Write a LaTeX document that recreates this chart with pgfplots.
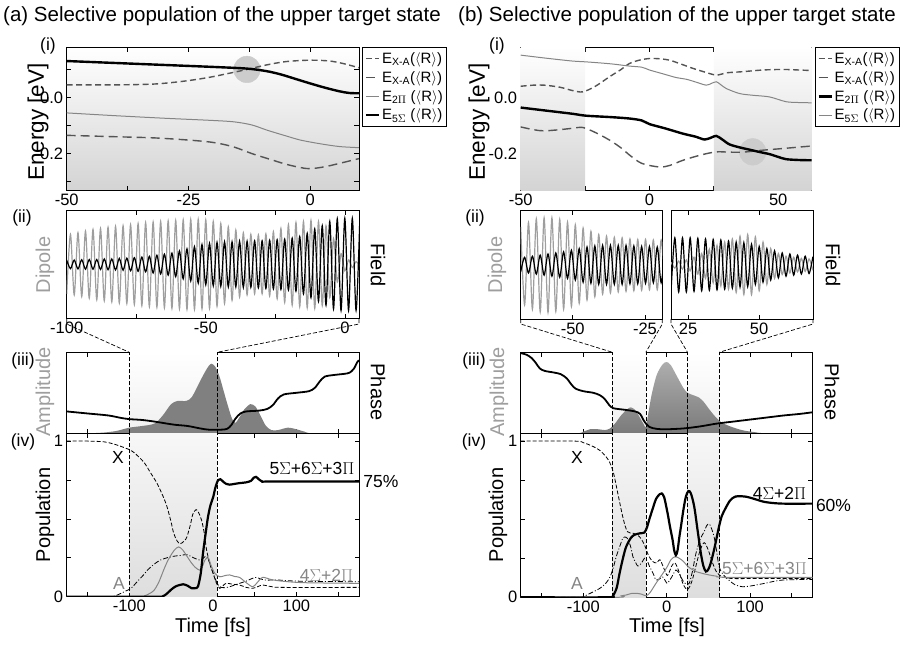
\documentclass[border=0pt]{standalone}
\usepackage{fontspec}
\setmainfont{Liberation Sans}
\usepackage{pgfplots}
\usepackage{pgfplotstable}
\pgfplotsset{compat=1.18}
\newcommand\fTitle{\fontsize{20.5}{22}\selectfont}
\newcommand\fLab{\fontsize{20}{22}\selectfont}
\newcommand\fEn{\fontsize{22.5}{24}\selectfont}
\newcommand\fTick{\fontsize{16.5}{18}\selectfont}
\newcommand\fLeg{\fontsize{15}{16}\selectfont}
\newcommand\fAnn{\fontsize{17.5}{19}\selectfont}
\definecolor{dgray}{gray}{0.33}
\definecolor{mgray}{gray}{0.52}
\definecolor{lgray}{gray}{0.62}
\definecolor{cgray}{gray}{0.8}
\pgfplotsset{
  base/.style={scale only axis, axis line style={line width=0.9pt},
    every tick/.style={black, line width=0.8pt}, major tick length=4.5pt,
    tick align=inside, ticklabel style={font=\fTick}, clip=true, clip mode=individual},
  dashU/.style={color=dgray, line width=1.4pt, dash pattern=on 6pt off 3.5pt, smooth},
  dashL/.style={color=dgray, line width=1.4pt, dash pattern=on 9pt off 5pt, smooth},
  thinG/.style={color=mgray, line width=1pt, smooth},
  thickK/.style={color=black, line width=2.4pt, smooth},
  vdash/.style={black, line width=0.7pt, dash pattern=on 4pt off 2pt, forget plot},
  leg/.style={legend style={at={(1.011,1)}, anchor=north west, draw=black, line width=0.8pt, font=\fLeg, inner xsep=2pt, inner ysep=3pt, row sep=2.5pt, cells={anchor=west}},
    legend image code/.code={\draw[##1] (0pt,0pt) -- (13pt,0pt);}},
}
\pgfplotstableread{
x g b
-100.0 -0.55 0.08
-98.65 0.56 -0.08
-97.3 -0.57 0.08
-95.95 0.59 -0.085
-94.6 -0.60 0.085
-93.25 0.62 -0.09
-91.9 -0.63 0.09
-90.55 0.65 -0.09
-89.2 -0.66 0.09
-87.85 0.67 -0.095
-86.5 -0.68 0.10
-85.15 0.69 -0.10
-83.8 -0.70 0.10
-82.45 0.71 -0.105
-81.1 -0.72 0.11
-79.75 0.72 -0.11
-78.4 -0.73 0.115
-77.05 0.74 -0.12
-75.7 -0.75 0.125
-74.35 0.76 -0.13
-73.0 -0.77 0.135
-71.65 0.78 -0.14
-70.3 -0.79 0.15
-68.95 0.79 -0.16
-67.6 -0.80 0.17
-66.25 0.80 -0.18
-64.9 -0.81 0.19
-63.55 0.81 -0.20
-62.2 -0.82 0.21
-60.85 0.82 -0.23
-59.5 -0.83 0.25
-58.15 0.83 -0.27
-56.8 -0.84 0.29
-55.45 0.84 -0.31
-54.1 -0.84 0.33
-52.75 0.84 -0.35
-51.4 -0.83 0.37
-50.05 0.83 -0.38
-48.7 -0.82 0.39
-47.35 0.80 -0.40
-46.0 -0.78 0.41
-44.65 0.76 -0.41
-43.3 -0.73 0.42
-41.95 0.70 -0.42
-40.6 -0.67 0.42
-39.25 0.64 -0.42
-37.9 -0.61 0.43
-36.55 0.59 -0.43
-35.2 -0.57 0.43
-33.85 0.56 -0.43
-32.5 -0.55 0.44
-31.15 0.55 -0.44
-29.8 -0.55 0.44
-28.45 0.57 -0.45
-27.1 -0.59 0.45
-25.75 0.61 -0.46
-24.4 -0.64 0.46
-23.05 0.67 -0.47
-21.7 -0.71 0.47
-20.35 0.74 -0.48
-19.0 -0.76 0.49
-17.65 0.78 -0.50
-16.3 -0.79 0.52
-14.95 0.80 -0.55
-13.6 -0.81 0.58
-12.25 0.82 -0.62
-10.9 -0.82 0.66
-9.55 0.80 -0.69
-8.2 -0.77 0.72
-6.85 0.72 -0.76
-5.5 -0.62 0.80
-4.15 0.48 -0.83
-2.8 -0.33 0.85
-1.45 0.20 -0.86
-0.1 -0.12 0.86
1.25 0.08 -0.86
2.6 -0.06 0.86
3.95 0.05 -0.86
5.3 -0.04 0.86
}\dipA
\pgfplotstableread{
x g b
-68.0 0.70 -0.13
-66.65 -0.74 0.14
-65.3 0.78 -0.15
-63.95 -0.82 0.16
-62.6 0.85 -0.17
-61.25 -0.87 0.18
-59.9 0.87 -0.19
-58.55 -0.88 0.20
-57.2 0.87 -0.21
-55.85 -0.86 0.22
-54.5 0.84 -0.23
-53.15 -0.82 0.24
-51.8 0.79 -0.25
-50.45 -0.77 0.27
-49.1 0.74 -0.28
-47.75 -0.71 0.30
-46.4 0.68 -0.32
-45.05 -0.65 0.33
-43.7 0.62 -0.34
-42.35 -0.59 0.35
-41.0 0.56 -0.36
-39.65 -0.54 0.36
-38.3 0.53 -0.36
-36.95 -0.52 0.36
-35.6 0.51 -0.36
-34.25 -0.50 0.36
-32.9 0.50 -0.36
-31.55 -0.49 0.36
-30.2 0.48 -0.35
-28.85 -0.48 0.35
-27.5 0.47 -0.35
-26.15 -0.47 0.34
-24.8 0.47 -0.34
-23.45 -0.46 0.34
-22.1 0.46 -0.33
-20.75 -0.46 0.33
-19.4 0.46 -0.33
-18.05 -0.46 0.33
}\dipB
\pgfplotstableread{
x g b
19.0 0.05 -0.50
20.35 -0.06 0.50
21.7 0.07 -0.50
23.05 -0.08 0.50
24.4 0.09 -0.50
25.75 -0.11 0.50
27.1 0.14 -0.49
28.45 -0.17 0.49
29.8 0.21 -0.48
31.15 -0.25 0.48
32.5 0.29 -0.47
33.85 -0.33 0.47
35.2 0.36 -0.46
36.55 -0.39 0.46
37.9 0.42 -0.45
39.25 -0.45 0.44
40.6 0.48 -0.43
41.95 -0.51 0.42
43.3 0.53 -0.41
44.65 -0.55 0.41
46.0 0.56 -0.40
47.35 -0.55 0.38
48.7 0.52 -0.36
50.05 -0.48 0.34
51.4 0.42 -0.32
52.75 -0.36 0.30
54.1 0.30 -0.28
55.45 -0.25 0.26
56.8 0.21 -0.24
58.15 -0.18 0.22
59.5 0.16 -0.21
60.85 -0.15 0.20
62.2 0.14 -0.19
63.55 -0.13 0.18
64.9 0.12 -0.17
66.25 -0.12 0.16
67.6 0.11 -0.16
68.95 -0.10 0.15
}\dipC
\begin{document}
\begin{tikzpicture}
\useasboundingbox (0,0) rectangle (901pt,-646pt);
% titles
\node[anchor=base west, font=\fTitle, inner sep=0] at (3pt,-21pt) {(a) Selective population of the upper target state};
\node[anchor=base west, font=\fTitle, inner sep=0] at (458pt,-21pt) {(b) Selective population of the upper target state};
\node[font=\fEn, rotate=90, inner sep=0] at (38pt,-122pt) {Energy [eV]};
\node[font=\fEn, rotate=90, inner sep=0] at (479pt,-122pt) {Energy [eV]};
%%%%%%%%%%%%%%%% LEFT (i)
\begin{axis}[base, leg, at={(66.7pt,-190pt)}, anchor=south west, width=292.3pt, height=143pt,
  xmin=-50, xmax=10, ymin=-0.33, ymax=0.18,
  xtick={-50,-37.5,-25,-12.5,0}, xticklabels={-50,,-25,,0},
  ytick={-0.3,-0.2,-0.1,0,0.1}, yticklabels={,-0.2,,0.0,},
  axis background/.style={top color=white, bottom color=black!17}]
\addplot[color=cgray, only marks, mark=*, mark size=13.3pt, mark options={draw=cgray, fill=cgray}, forget plot] coordinates {(-13,0.1)};
\addplot[dashU] coordinates {(-50,0.045) (-40,0.045) (-32,0.048) (-26,0.058) (-21,0.071) (-17,0.085) (-13,0.100) (-9,0.116) (-5,0.128) (0,0.133) (4,0.13) (7,0.12) (10,0.106)};
\addlegendentry{E\textsubscript{X-A}($\langle$R$\rangle$)}
\addplot[dashL] coordinates {(-50,-0.135) (-40,-0.14) (-31,-0.145) (-21,-0.158) (-16,-0.175) (-12,-0.2) (-8,-0.222) (-5,-0.238) (-2,-0.25) (0,-0.254) (3,-0.247) (6,-0.235) (10,-0.218)};
\addlegendentry{E\textsubscript{X-A}($\langle$R$\rangle$)}
\addplot[thinG] coordinates {(-50,-0.055) (-40,-0.065) (-30,-0.074) (-20,-0.082) (-15.6,-0.087) (-12,-0.098) (-8.8,-0.117) (-5,-0.137) (-2,-0.152) (2,-0.165) (6,-0.175) (10,-0.179)};
\addlegendentry{E\textsubscript{2$\Pi$} ($\langle$R$\rangle$)}
\addplot[thickK] coordinates {(-50,0.13) (-40,0.123) (-30,0.116) (-20,0.109) (-13,0.103) (-9,0.094) (-6,0.082) (-3,0.066) (0,0.05) (3,0.035) (6,0.022) (8,0.016) (10,0.015)};
\addlegendentry{E\textsubscript{5$\Sigma$} ($\langle$R$\rangle$)}
\end{axis}
%%%%%%%%%%%%%%%% LEFT (ii)
\begin{axis}[base, at={(66.7pt,-318pt)}, anchor=south west, width=292.3pt, height=107.3pt,
  xmin=-100, xmax=5, ymin=-1, ymax=1, ytick=\empty,
  xtick={-100,-75,-50,-25,0}, xticklabels={-100,,-50,,0}]
\addplot[color=lgray, line width=1.2pt, smooth] table[x=x, y=g] {\dipA};
\addplot[color=black, line width=1.2pt, smooth] table[x=x, y=b] {\dipA};
\end{axis}
%%%%%%%%%%%%%%%% LEFT (iii)
\begin{axis}[base, at={(66.7pt,-433.3pt)}, anchor=south west, width=292.3pt, height=81pt,
  xmin=-175, xmax=175, ymin=0, ymax=1, ytick=\empty,
  xtick={-150,-100,...,150}, xticklabels={}]
\addplot[draw=none, top color=white, bottom color=black!6, forget plot] coordinates {(-100,0) (-100,1) (5,1) (5,0)} -- cycle;
\addplot[draw=none, fill=black!50, smooth] coordinates {(-175,0) (-150,0) (-130,0.01) (-115,0.03) (-100,0.07) (-85,0.09) (-70,0.12) (-60,0.22) (-50,0.36) (-42,0.40) (-32,0.40) (-25,0.45) (-15,0.65) (-7,0.80) (-2,0.86) (3,0.82) (8,0.70) (13,0.52) (18,0.34) (23,0.18) (27,0.13) (32,0.2) (38,0.3) (45,0.36) (51,0.33) (57,0.22) (63,0.1) (70,0.04) (78,0.04) (90,0.07) (100,0.05) (110,0.02) (120,0) (175,0)} \closedcycle;
\addplot[vdash] coordinates {(-100,0) (-100,1)};
\addplot[vdash] coordinates {(5,0) (5,1)};
\addplot[color=black, line width=1.8pt, smooth] coordinates {(-175,0.27) (-150,0.245) (-125,0.22) (-110,0.19) (-100,0.175) (-85,0.165) (-70,0.145) (-55,0.12) (-45,0.105) (-30,0.09) (-15,0.06) (-5,0.045) (10,0.045) (17,0.055) (22,0.1) (27,0.18) (33,0.245) (40,0.27) (55,0.28) (65,0.3) (72,0.35) (78,0.43) (85,0.48) (100,0.5) (115,0.52) (122,0.56) (128,0.64) (134,0.7) (145,0.72) (158,0.735) (164,0.75) (169,0.8) (173,0.88) (175,0.9)};
\end{axis}
%%%%%%%%%%%%%%%% LEFT (iv)
\begin{axis}[base, at={(66.7pt,-596.7pt)}, anchor=south west, width=292.3pt, height=163.4pt,
  xmin=-175, xmax=175, ymin=0, ymax=1.05,
  xtick={-150,-100,...,150}, xticklabels={,-100,,0,,100,},
  ytick={0,0.25,0.5,0.75,1}, yticklabels={0,,,,1}]
\addplot[draw=none, top color=black!3, bottom color=black!13, forget plot] coordinates {(-100,0) (-100,1.05) (5,1.05) (5,0)} -- cycle;
\addplot[vdash] coordinates {(-100,0) (-100,1.05)};
\addplot[vdash] coordinates {(5,0) (5,1.05)};
\addplot[color=black, line width=0.8pt, dash pattern=on 4pt off 2pt, smooth] coordinates {(-175,1) (-150,1) (-130,0.995) (-115,0.975) (-98,0.94) (-90,0.905) (-82,0.86) (-75,0.80) (-67,0.73) (-60,0.65) (-55,0.58) (-50,0.48) (-47,0.41) (-43,0.36) (-39,0.34) (-34,0.36) (-31,0.385) (-27,0.46) (-24,0.53) (-20,0.56) (-17,0.54) (-13.4,0.49) (-10,0.4) (-7.5,0.3) (-3,0.2) (0.4,0.15) (4,0.09) (8.3,0.054) (12,0.07) (16,0.086) (24,0.08) (32,0.075) (40,0.06) (47.7,0.054) (54,0.065) (59.6,0.075) (70,0.065) (83,0.06) (175,0.06)};
\addplot[color=black, line width=0.8pt, dash pattern=on 5pt off 2pt on 1pt off 2pt, smooth] coordinates {(-175,0) (-125,0) (-115,0.01) (-105,0.035) (-98,0.054) (-90,0.1) (-83,0.14) (-78.5,0.17) (-70,0.21) (-63,0.235) (-55,0.25) (-47,0.26) (-39,0.265) (-31,0.27) (-23,0.25) (-15.4,0.235) (-11,0.25) (-7.5,0.26) (-4,0.22) (0.4,0.15) (4,0.1) (8.3,0.064) (14,0.058) (20,0.064) (26,0.075) (32,0.086) (40,0.1) (46,0.115) (51.7,0.124) (57,0.115) (63.5,0.107) (79,0.107) (103,0.1) (175,0.096)};
\addplot[color=mgray, line width=1pt, smooth] coordinates {(-175,0) (-90,0) (-82,0.005) (-76,0.02) (-70.6,0.04) (-65,0.09) (-59,0.17) (-55,0.22) (-51,0.26) (-46,0.3) (-41,0.32) (-36,0.3) (-31,0.26) (-26,0.22) (-21.3,0.19) (-15.4,0.17) (-12,0.2) (-9.5,0.235) (-5.6,0.25) (-2,0.2) (2.4,0.15) (8.3,0.128) (14,0.135) (20,0.14) (26,0.13) (32,0.124) (40,0.09) (47.7,0.064) (53,0.09) (59.6,0.124) (70,0.11) (83,0.1) (110,0.09) (175,0.086)};
\addplot[color=black, line width=2.2pt, smooth] coordinates {(-175,0) (-70,0) (-60,0.003) (-55,0.02) (-50,0.045) (-45,0.065) (-40,0.075) (-35.5,0.08) (-30,0.07) (-25.6,0.055) (-21,0.055) (-17.8,0.066) (-14.5,0.15) (-11.8,0.28) (-8.8,0.4) (-5.9,0.51) (-3,0.585) (0.4,0.64) (3,0.70) (6.3,0.75) (9,0.755) (12.2,0.74) (16,0.725) (20,0.72) (26,0.725) (32,0.73) (40,0.735) (45.8,0.745) (49,0.765) (51.7,0.77) (55,0.755) (59.6,0.74) (70,0.74) (175,0.74)};
\end{axis}
%%%%%%%%%%%%%%%% RIGHT (i)
\begin{axis}[base, leg, at={(520.7pt,-190pt)}, anchor=south west, width=291pt, height=143pt,
  xmin=-50, xmax=63, ymin=-0.33, ymax=0.18,
  xtick={-50,-25,0,25,50}, xticklabels={-50,,0,,50},
  ytick={-0.3,-0.2,-0.1,0,0.1}, yticklabels={,-0.2,,0.0,}]
\addplot[draw=none, top color=white, bottom color=black!17, forget plot] coordinates {(-50,-0.33) (-50,0.18) (-25,0.18) (-25,-0.33)} -- cycle;
\addplot[draw=none, top color=white, bottom color=black!17, forget plot] coordinates {(25,-0.33) (25,0.18) (63,0.18) (63,-0.33)} -- cycle;
\addplot[color=cgray, only marks, mark=*, mark size=13.3pt, mark options={draw=cgray, fill=cgray}, forget plot] coordinates {(40.1,-0.194)};
\addplot[dashU] coordinates {(-50,0.04) (-45,0.044) (-41,0.044) (-35,0.037) (-30,0.025) (-25.9,0.02) (-21,0.04) (-15.5,0.074) (-11,0.1) (-7.8,0.121) (-4,0.133) (0,0.139) (4,0.138) (7.8,0.133) (12,0.12) (16.8,0.104) (21,0.092) (25.9,0.08) (30,0.088) (36.2,0.092) (44,0.098) (51.8,0.1) (58,0.098) (63,0.096)};
\addlegendentry{E\textsubscript{X-A}($\langle$R$\rangle$)}
\addplot[dashL] coordinates {(-50,-0.105) (-45,-0.115) (-41,-0.119) (-35,-0.115) (-30,-0.11) (-25.9,-0.107) (-21,-0.125) (-15.5,-0.152) (-11,-0.18) (-7.8,-0.205) (-3,-0.235) (3.9,-0.248) (8,-0.242) (13,-0.224) (20,-0.205) (25.9,-0.194) (31,-0.195) (36.2,-0.195) (44,-0.188) (51.8,-0.182) (58,-0.177) (63,-0.173)};
\addlegendentry{E\textsubscript{X-A}($\langle$R$\rangle$)}
\addplot[thickK] coordinates {(-50,-0.036) (-40,-0.047) (-30,-0.058) (-24.6,-0.065) (-15,-0.07) (-7.8,-0.075) (-3,-0.082) (0,-0.095) (6,-0.11) (13,-0.129) (18,-0.14) (21.4,-0.15) (24,-0.143) (25.9,-0.137) (28,-0.148) (31,-0.167) (35,-0.178) (38.8,-0.186) (43,-0.195) (46.6,-0.202) (50,-0.212) (53,-0.22) (58,-0.223) (63,-0.224)};
\addlegendentry{E\textsubscript{2$\Pi$} ($\langle$R$\rangle$)}
\addplot[thinG] coordinates {(-50,0.151) (-40,0.14) (-30,0.13) (-24.6,0.127) (-15,0.12) (-7.8,0.112) (-3,0.108) (0,0.098) (5,0.085) (10.4,0.071) (14.3,0.065) (18,0.055) (22,0.044) (24,0.05) (25.9,0.056) (27.5,0.047) (29.8,0.032) (35,0.014) (40,0.008) (46.6,0.002) (53,-0.015) (58,-0.018) (63,-0.019)};
\addlegendentry{E\textsubscript{5$\Sigma$} ($\langle$R$\rangle$)}
\end{axis}
%%%%%%%%%%%%%%%% RIGHT (ii) a
\begin{axis}[base, at={(520.7pt,-319pt)}, anchor=south west, width=141.6pt, height=108.3pt,
  xmin=-68, xmax=-19, ymin=-1, ymax=1, ytick=\empty,
  xtick={-50,-25}, xticklabels={-50,-25}]
\addplot[color=lgray, line width=1.2pt, smooth] table[x=x, y=g] {\dipB};
\addplot[color=black, line width=1.2pt, smooth] table[x=x, y=b] {\dipB};
\end{axis}
%%%%%%%%%%%%%%%% RIGHT (ii) b
\begin{axis}[base, at={(671pt,-319pt)}, anchor=south west, width=142pt, height=108.3pt,
  xmin=19, xmax=69, ymin=-1, ymax=1, ytick=\empty,
  xtick={25,50}, xticklabels={25,50}]
\addplot[color=lgray, line width=1.2pt, smooth] table[x=x, y=g] {\dipC};
\addplot[color=black, line width=1.2pt, smooth] table[x=x, y=b] {\dipC};
\end{axis}
%%%%%%%%%%%%%%%% RIGHT (iii)
\begin{axis}[base, at={(520.7pt,-433.3pt)}, anchor=south west, width=292pt, height=81pt,
  xmin=-175, xmax=175, ymin=0, ymax=1, ytick=\empty,
  xtick={-150,-100,...,150}, xticklabels={}]
\addplot[draw=none, top color=white, bottom color=black!6, forget plot] coordinates {(-65,0) (-65,1) (-25,1) (-25,0)} -- cycle;
\addplot[draw=none, top color=white, bottom color=black!6, forget plot] coordinates {(25,0) (25,1) (63,1) (63,0)} -- cycle;
\addplot[draw=none, top color=black!32, bottom color=black!52, smooth] coordinates {(-175,0) (-110,0) (-100,0.02) (-92,0.05) (-82,0.05) (-74,0.04) (-68,0.06) (-62,0.12) (-54,0.23) (-47,0.3) (-43,0.32) (-38,0.29) (-33,0.21) (-28,0.12) (-25,0.08) (-22,0.25) (-18,0.48) (-12,0.72) (-5,0.85) (0,0.88) (5,0.84) (13,0.69) (20,0.56) (25,0.5) (32,0.47) (39,0.44) (45,0.38) (50,0.31) (57,0.22) (65,0.14) (75,0.09) (90,0.04) (105,0.015) (120,0) (175,0)} \closedcycle;
\addplot[vdash] coordinates {(-65,0) (-65,1)};
\addplot[vdash] coordinates {(-25,0) (-25,1)};
\addplot[vdash] coordinates {(25,0) (25,1)};
\addplot[vdash] coordinates {(63,0) (63,1)};
\addplot[color=black, line width=1.8pt, smooth] coordinates {(-175,0.99) (-168,0.97) (-162,0.93) (-157,0.87) (-152,0.8) (-146,0.77) (-135,0.75) (-127,0.73) (-120,0.68) (-114,0.6) (-109,0.55) (-100,0.52) (-88,0.5) (-80,0.47) (-74,0.42) (-69,0.35) (-64,0.31) (-50,0.29) (-38,0.27) (-32,0.24) (-27,0.15) (-21,0.08) (-12,0.055) (0,0.05) (20,0.06) (40,0.085) (60,0.12) (80,0.145) (100,0.17) (120,0.195) (140,0.22) (160,0.24) (175,0.26)};
\end{axis}
%%%%%%%%%%%%%%%% RIGHT (iv)
\begin{axis}[base, at={(520.7pt,-597.3pt)}, anchor=south west, width=292pt, height=164pt,
  xmin=-175, xmax=175, ymin=0, ymax=1.05,
  xtick={-150,-100,...,150}, xticklabels={,-100,,0,,100,},
  ytick={0,0.25,0.5,0.75,1}, yticklabels={0,,,,1}]
\addplot[draw=none, top color=black!3, bottom color=black!13, forget plot] coordinates {(-65,0) (-65,1.05) (-25,1.05) (-25,0)} -- cycle;
\addplot[draw=none, top color=black!3, bottom color=black!13, forget plot] coordinates {(25,0) (25,1.05) (63,1.05) (63,0)} -- cycle;
\addplot[vdash] coordinates {(-65,0) (-65,1.05)};
\addplot[vdash] coordinates {(-25,0) (-25,1.05)};
\addplot[vdash] coordinates {(25,0) (25,1.05)};
\addplot[vdash] coordinates {(63,0) (63,1.05)};
\addplot[color=black, line width=0.8pt, dash pattern=on 4pt off 2pt, smooth] coordinates {(-175,1) (-110,1) (-100,0.99) (-90,0.97) (-80,0.94) (-70,0.88) (-64,0.8) (-58,0.65) (-52,0.5) (-47,0.42) (-40,0.41) (-33,0.39) (-27,0.34) (-22,0.27) (-17,0.23) (-12,0.22) (-8,0.24) (-3,0.18) (1,0.14) (6,0.2) (10,0.22) (15,0.16) (20,0.08) (25,0.05) (30,0.1) (35,0.2) (40,0.3) (45,0.35) (50,0.3) (55,0.22) (60,0.16) (67,0.13) (80,0.12) (100,0.12) (175,0.12)};
\addplot[color=black, line width=0.8pt, dash pattern=on 5pt off 2pt on 1pt off 2pt, smooth] coordinates {(-175,0) (-105,0) (-100,0.005) (-90,0.03) (-80,0.058) (-73,0.09) (-68,0.13) (-64,0.19) (-60.5,0.26) (-56,0.33) (-52.4,0.38) (-49,0.385) (-46.4,0.37) (-43,0.32) (-40.5,0.26) (-37,0.22) (-34.5,0.2) (-30,0.22) (-26.7,0.25) (-23,0.23) (-20.8,0.2) (-16,0.15) (-12.8,0.11) (-8,0.12) (-4.8,0.13) (-1,0.1) (1,0.09) (6,0.13) (11,0.175) (15,0.15) (19,0.11) (23,0.085) (27,0.09) (31,0.17) (35,0.28) (40,0.37) (44.8,0.42) (48,0.46) (50.8,0.47) (53,0.45) (56.7,0.39) (60,0.29) (62.6,0.2) (67,0.15) (74.5,0.11) (82,0.08) (90.4,0.068) (100,0.072) (118,0.09) (138,0.11) (175,0.115)};
\addplot[color=mgray, line width=1pt, smooth] coordinates {(-175,0) (-60,0) (-54,0.01) (-48.5,0.015) (-42,0.025) (-36.5,0.026) (-30,0.02) (-24.6,0.01) (-20,0.03) (-12.8,0.09) (-5,0.15) (0,0.19) (5,0.24) (10,0.26) (15,0.25) (20,0.23) (25,0.2) (30,0.18) (35,0.165) (45,0.15) (51,0.143) (60,0.135) (70.5,0.128) (175,0.128)};
\addplot[color=black, line width=2.2pt, smooth] coordinates {(-175,0) (-70,0) (-65,0.005) (-60,0.06) (-56.5,0.154) (-52,0.26) (-48.5,0.325) (-43,0.38) (-38.6,0.40) (-32,0.41) (-26.7,0.415) (-23.5,0.45) (-20.8,0.5) (-16,0.58) (-12.8,0.63) (-8.5,0.66) (-6,0.665) (-3,0.64) (1,0.54) (4,0.45) (7,0.37) (9,0.3) (11,0.27) (13,0.3) (15,0.38) (17,0.45) (20,0.56) (23,0.645) (26,0.68) (29,0.665) (33,0.58) (37,0.43) (41,0.28) (44,0.2) (47,0.165) (50,0.18) (52.8,0.22) (57,0.31) (62.6,0.45) (66,0.52) (70.5,0.57) (76,0.62) (82.4,0.645) (94,0.645) (105,0.63) (118,0.61) (138,0.6) (175,0.6)};
\end{axis}
%%%%%%%%%%%%%%%% connectors
\draw[black, line width=0.7pt, dash pattern=on 4pt off 2pt] (66.7pt,-319pt) -- (66.7pt,-324pt) -- (129.3pt,-352.3pt);
\draw[black, line width=0.7pt, dash pattern=on 4pt off 2pt] (359pt,-319pt) -- (359pt,-324pt) -- (217pt,-352.3pt);
\draw[black, line width=0.7pt, dash pattern=on 4pt off 2pt] (520.7pt,-319pt) -- (520.7pt,-324pt) -- (612.5pt,-352.3pt);
\draw[black, line width=0.7pt, dash pattern=on 4pt off 2pt] (662.3pt,-319pt) -- (662.3pt,-324pt) -- (645.8pt,-352.3pt);
\draw[black, line width=0.7pt, dash pattern=on 4pt off 2pt] (671pt,-319pt) -- (671pt,-324pt) -- (687.5pt,-352.3pt);
\draw[black, line width=0.7pt, dash pattern=on 4pt off 2pt] (813pt,-319pt) -- (813pt,-324pt) -- (719.2pt,-352.3pt);
%%%%%%%%%%%%%%%% labels
\begin{scope}[every node/.style={inner sep=0}]
\node[font=\fLab, rotate=90, text=lgray] at (45pt,-265pt) {Dipole};
\node[font=\fLab, rotate=90, text=lgray] at (497pt,-265pt) {Dipole};
\node[font=\fLab, rotate=-90] at (378pt,-265pt) {Field};
\node[font=\fLab, rotate=-90] at (833pt,-265pt) {Field};
\node[font=\fLab, rotate=90, text=lgray] at (45pt,-392pt) {Amplitude};
\node[font=\fLab, rotate=90, text=lgray] at (499pt,-392pt) {Amplitude};
\node[font=\fLab, rotate=-90] at (378pt,-392pt) {Phase};
\node[font=\fLab, rotate=-90] at (832pt,-392pt) {Phase};
\node[font=\fLab, rotate=90] at (45pt,-515pt) {Population};
\node[font=\fLab, rotate=90] at (498pt,-515pt) {Population};
\node[font=\fLab] at (213pt,-627pt) {Time [fs]};
\node[font=\fLab] at (667pt,-627pt) {Time [fs]};
\node[font=\fAnn] at (48pt,-46pt) {(i)};
\node[font=\fAnn] at (497pt,-46pt) {(i)};
\node[font=\fAnn] at (22pt,-218pt) {(ii)};
\node[font=\fAnn] at (475pt,-218pt) {(ii)};
\node[font=\fAnn] at (23pt,-361pt) {(iii)};
\node[font=\fAnn] at (474pt,-361pt) {(iii)};
\node[font=\fAnn] at (23pt,-442pt) {(iv)};
\node[font=\fAnn] at (474pt,-442pt) {(iv)};
\node[font=\fAnn] at (118pt,-457pt) {X};
\node[font=\fAnn, text=mgray] at (119pt,-583pt) {A};
\node[font=\fAnn] at (312pt,-468pt) {5$\Sigma$+6$\Sigma$+3$\Pi$};
\node[font=\fAnn] at (380.8pt,-481.7pt) {75\%};
\node[font=\fAnn, text=mgray] at (326.5pt,-575pt) {4$\Sigma$+2$\Pi$};
\node[font=\fAnn] at (577pt,-457pt) {X};
\node[font=\fAnn, text=mgray] at (577pt,-583pt) {A};
\node[font=\fAnn] at (779.5pt,-493pt) {4$\Sigma$+2$\Pi$};
\node[font=\fAnn] at (833.5pt,-505pt) {60\%};
\node[font=\fAnn, text=mgray] at (764.5pt,-568pt) {5$\Sigma$+6$\Sigma$+3$\Pi$};
\end{scope}
\end{tikzpicture}
\end{document}
